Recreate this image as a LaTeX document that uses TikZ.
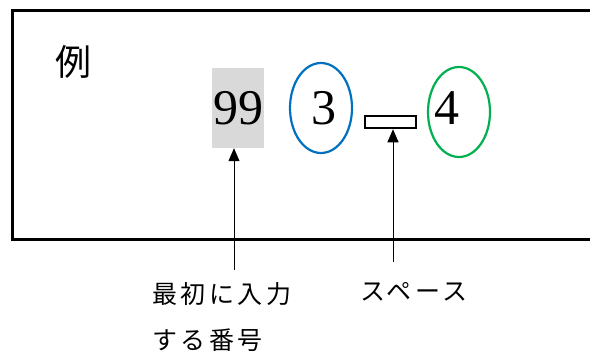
\documentclass[tikz,border=0pt]{standalone}
\usepackage{fontspec}
\setmainfont{Liberation Serif}
\newfontfamily\jpfont{Noto Sans CJK JP}
\newfontfamily\jpfontsp[LetterSpace=14]{Noto Sans CJK JP}
\usetikzlibrary{arrows.meta,shapes.geometric}
\definecolor{boxgray}{HTML}{D9D9D9}
\definecolor{ringblue}{HTML}{0070C0}
\definecolor{ringgreen}{HTML}{00B050}
\tikzset{
  frameline/.style={line width=3pt, black},
  digit/.style={font=\fontsize{50}{50}\selectfont, inner sep=0pt},
  ring/.style={ellipse, line width=2.2pt, minimum width=62pt, minimum height=90pt, inner sep=0pt},
  pointer/.style={line width=0.9pt, -{Triangle[length=13pt,width=11pt]}},
  label/.style={font=\fontsize{25}{46}\selectfont\jpfontsp, inner sep=0pt, align=left},
}
\begin{document}
\begin{tikzpicture}[x=1pt,y=-1pt]
\useasboundingbox (0,0) rectangle (590,356);
\clip (0,0) rectangle (590,356);
\draw[frameline] (12,10) rectangle (610,239);
\node[font=\fontsize{36}{36}\selectfont\jpfont, inner sep=0pt] (rei) at (73,62) {例};
\node[digit, fill=boxgray, minimum width=52pt, minimum height=80pt] (n99) at (238,108) {99};
\node[ring, draw=ringblue] (e3) at (321,108) {};
\node[digit] (n3) at (324,108) {3};
\node[ring, draw=ringgreen] (e4) at (459,112) {};
\node[digit] (n4) at (447,108) {4};
\node[draw, line width=2.5pt, minimum width=51pt, minimum height=12pt, inner sep=0pt] (sp) at (390.5,122) {};
\node[label, anchor=north west] (lab1) at (152,282) {最初に入力\\する番号};
\node[label, anchor=north west] (lab2) at (360,282) {スペース};
\coordinate (a1) at (234,270);
\coordinate (a2) at (393,262);
\draw[pointer] (a1) -- (a1 |- n99.south);
\draw[pointer] (a2) -- (a2 |- sp.south);
\end{tikzpicture}
\end{document}
